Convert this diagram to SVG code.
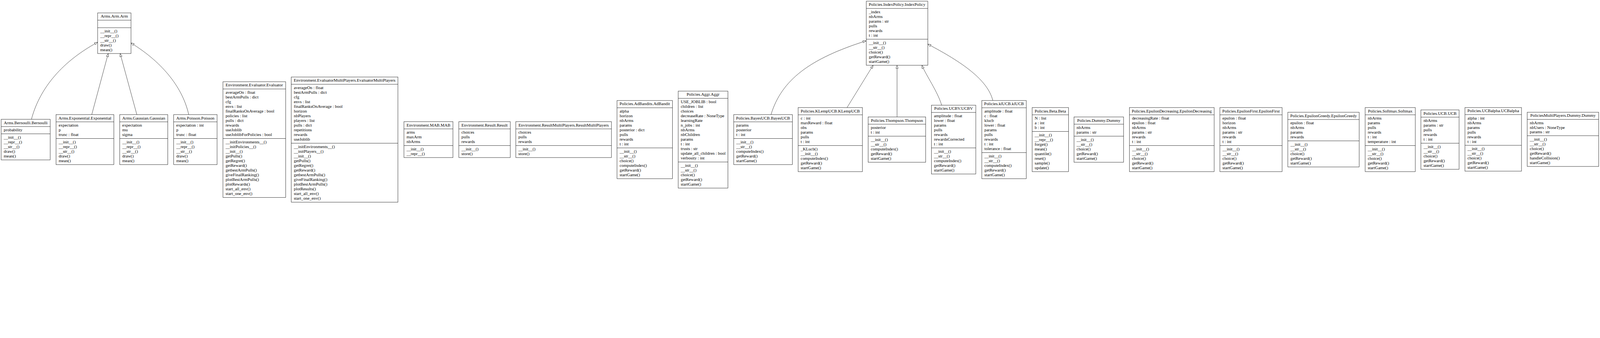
<svg xmlns="http://www.w3.org/2000/svg" width="6817" height="865" viewBox="0 0 6817 865" preserveAspectRatio="xMinYMin meet" style="max-width:100vw;max-height:100vh">
<style>
.box{fill:#fff;stroke:#000;stroke-width:1.3}
.sep{stroke:#000;stroke-width:1.3}
text{font-family:"Liberation Serif","Times New Roman",serif;font-size:18.2px;fill:#000}
.t{text-anchor:middle}
.e{fill:none;stroke:#000;stroke-width:1.2}
</style>
<defs>
<marker id="inh" markerUnits="userSpaceOnUse" markerWidth="16" markerHeight="12" viewBox="-1 -6 16 12" refX="13.3" refY="0" orient="auto">
<path d="M0,-4.7 L13.3,0 L0,4.7 Z" fill="#fff" stroke="#000" stroke-width="1.2"/>
</marker>
</defs>
<rect width="6817" height="865" fill="#fff"/>
<g id="connectors">
<path class="e" d="M134,508 C165,390 250,270 416,180" marker-end="url(#inh)"/>
<path class="e" d="M391,488 L461,228" marker-end="url(#inh)"/>
<path class="e" d="M583,488 L512,228" marker-end="url(#inh)"/>
<path class="e" d="M804,488 C780,380 700,270 558,183" marker-end="url(#inh)"/>
<path class="e" d="M3285,488 C3330,340 3450,250 3690,174" marker-end="url(#inh)"/>
<path class="e" d="M3609,458 L3720,278" marker-end="url(#inh)"/>
<path class="e" d="M3822,498 L3822,278" marker-end="url(#inh)"/>
<path class="e" d="M4012,448 C3995,390 3945,320 3928,278" marker-end="url(#inh)"/>
<path class="e" d="M4230,428 C4208,340 4100,265 3953,188" marker-end="url(#inh)"/>
</g>
<g id="arms-arm-arm">
<rect class="box" x="416" y="55" width="142" height="173"/>
<line class="sep" x1="416" y1="86" x2="558" y2="86"/><line class="sep" x1="416" y1="118" x2="558" y2="118"/>
<text class="t" x="487" y="75.5">Arms.Arm.Arm</text>
<text><tspan x="427" y="138.5">__init__()</tspan><tspan x="427" y="158.5">__repr__()</tspan><tspan x="427" y="178.5">__str__()</tspan><tspan x="427" y="198.5">draw()</tspan><tspan x="427" y="218.5">mean()</tspan></text>
</g>
<g id="arms-bernoulli">
<rect class="box" x="5" y="508" width="209" height="173"/>
<line class="sep" x1="5" y1="539" x2="214" y2="539"/><line class="sep" x1="5" y1="570" x2="214" y2="570"/>
<text class="t" x="109.5" y="528.5">Arms.Bernoulli.Bernoulli</text>
<text><tspan x="16" y="559.5">probability</tspan></text>
<text><tspan x="16" y="590.5">__init__()</tspan><tspan x="16" y="610.5">__repr__()</tspan><tspan x="16" y="630.5">__str__()</tspan><tspan x="16" y="650.5">draw()</tspan><tspan x="16" y="670.5">mean()</tspan></text>
</g>
<g id="arms-exponential">
<rect class="box" x="239" y="488" width="246" height="213"/>
<line class="sep" x1="239" y1="519" x2="485" y2="519"/><line class="sep" x1="239" y1="590" x2="485" y2="590"/>
<text class="t" x="362" y="508.5">Arms.Exponential.Exponential</text>
<text><tspan x="250" y="539.5">expectation</tspan><tspan x="250" y="559.5">p</tspan><tspan x="250" y="579.5">trunc : float</tspan></text>
<text><tspan x="250" y="610.5">__init__()</tspan><tspan x="250" y="630.5">__repr__()</tspan><tspan x="250" y="650.5">__str__()</tspan><tspan x="250" y="670.5">draw()</tspan><tspan x="250" y="690.5">mean()</tspan></text>
</g>
<g id="arms-gaussian">
<rect class="box" x="510" y="488" width="205" height="213"/>
<line class="sep" x1="510" y1="519" x2="715" y2="519"/><line class="sep" x1="510" y1="590" x2="715" y2="590"/>
<text class="t" x="612.5" y="508.5">Arms.Gaussian.Gaussian</text>
<text><tspan x="521" y="539.5">expectation</tspan><tspan x="521" y="559.5">mu</tspan><tspan x="521" y="579.5">sigma</tspan></text>
<text><tspan x="521" y="610.5">__init__()</tspan><tspan x="521" y="630.5">__repr__()</tspan><tspan x="521" y="650.5">__str__()</tspan><tspan x="521" y="670.5">draw()</tspan><tspan x="521" y="690.5">mean()</tspan></text>
</g>
<g id="arms-poisson">
<rect class="box" x="740" y="488" width="185" height="213"/>
<line class="sep" x1="740" y1="519" x2="925" y2="519"/><line class="sep" x1="740" y1="590" x2="925" y2="590"/>
<text class="t" x="832.5" y="508.5">Arms.Poisson.Poisson</text>
<text><tspan x="751" y="539.5">expectation : int</tspan><tspan x="751" y="559.5">p</tspan><tspan x="751" y="579.5">trunc : float</tspan></text>
<text><tspan x="751" y="610.5">__init__()</tspan><tspan x="751" y="630.5">__repr__()</tspan><tspan x="751" y="650.5">__str__()</tspan><tspan x="751" y="670.5">draw()</tspan><tspan x="751" y="690.5">mean()</tspan></text>
</g>
<g id="env-evaluator">
<rect class="box" x="950" y="348" width="267" height="493"/>
<line class="sep" x1="950" y1="379" x2="1217" y2="379"/><line class="sep" x1="950" y1="590" x2="1217" y2="590"/>
<text class="t" x="1083.5" y="368.5">Environment.Evaluator.Evaluator</text>
<text><tspan x="961" y="399.5">averageOn : float</tspan><tspan x="961" y="419.5">bestArmPulls : dict</tspan><tspan x="961" y="439.5">cfg</tspan><tspan x="961" y="459.5">envs : list</tspan><tspan x="961" y="479.5">finalRanksOnAverage : bool</tspan><tspan x="961" y="499.5">policies : list</tspan><tspan x="961" y="519.5">pulls : dict</tspan><tspan x="961" y="539.5">rewards</tspan><tspan x="961" y="559.5">useJoblib</tspan><tspan x="961" y="579.5">useJoblibForPolicies : bool</tspan></text>
<text><tspan x="961" y="610.5">__initEnvironments__()</tspan><tspan x="961" y="630.5">__initPolicies__()</tspan><tspan x="961" y="650.5">__init__()</tspan><tspan x="961" y="670.5">getPulls()</tspan><tspan x="961" y="690.5">getRegret()</tspan><tspan x="961" y="710.5">getReward()</tspan><tspan x="961" y="730.5">getbestArmPulls()</tspan><tspan x="961" y="750.5">giveFinalRanking()</tspan><tspan x="961" y="770.5">plotBestArmPulls()</tspan><tspan x="961" y="790.5">plotRewards()</tspan><tspan x="961" y="810.5">start_all_env()</tspan><tspan x="961" y="830.5">start_one_env()</tspan></text>
</g>
<g id="env-evaluatormultiplayers">
<rect class="box" x="1241" y="328" width="454.5" height="533"/>
<line class="sep" x1="1241" y1="359" x2="1695.5" y2="359"/><line class="sep" x1="1241" y1="610" x2="1695.5" y2="610"/>
<text class="t" x="1468.25" y="348.5">Environment.EvaluatorMultiPlayers.EvaluatorMultiPlayers</text>
<text><tspan x="1252" y="379.5">averageOn : float</tspan><tspan x="1252" y="399.5">bestArmPulls : dict</tspan><tspan x="1252" y="419.5">cfg</tspan><tspan x="1252" y="439.5">envs : list</tspan><tspan x="1252" y="459.5">finalRanksOnAverage : bool</tspan><tspan x="1252" y="479.5">horizon</tspan><tspan x="1252" y="499.5">nbPlayers</tspan><tspan x="1252" y="519.5">players : list</tspan><tspan x="1252" y="539.5">pulls : dict</tspan><tspan x="1252" y="559.5">repetitions</tspan><tspan x="1252" y="579.5">rewards</tspan><tspan x="1252" y="599.5">useJoblib</tspan></text>
<text><tspan x="1252" y="630.5">__initEnvironments__()</tspan><tspan x="1252" y="650.5">__initPlayers__()</tspan><tspan x="1252" y="670.5">__init__()</tspan><tspan x="1252" y="690.5">getPulls()</tspan><tspan x="1252" y="710.5">getRegret()</tspan><tspan x="1252" y="730.5">getReward()</tspan><tspan x="1252" y="750.5">getbestArmPulls()</tspan><tspan x="1252" y="770.5">giveFinalRanking()</tspan><tspan x="1252" y="790.5">plotBestArmPulls()</tspan><tspan x="1252" y="810.5">plotResults()</tspan><tspan x="1252" y="830.5">start_all_env()</tspan><tspan x="1252" y="850.5">start_one_env()</tspan></text>
</g>
<g id="env-mab">
<rect class="box" x="1721" y="518" width="209" height="153"/>
<line class="sep" x1="1721" y1="549" x2="1930" y2="549"/><line class="sep" x1="1721" y1="620" x2="1930" y2="620"/>
<text class="t" x="1825.5" y="538.5">Environment.MAB.MAB</text>
<text><tspan x="1732" y="569.5">arms</tspan><tspan x="1732" y="589.5">maxArm</tspan><tspan x="1732" y="609.5">nbArms</tspan></text>
<text><tspan x="1732" y="640.5">__init__()</tspan><tspan x="1732" y="660.5">__repr__()</tspan></text>
</g>
<g id="env-result">
<rect class="box" x="1955" y="518" width="219" height="153"/>
<line class="sep" x1="1955" y1="549" x2="2174" y2="549"/><line class="sep" x1="1955" y1="620" x2="2174" y2="620"/>
<text class="t" x="2064.5" y="538.5">Environment.Result.Result</text>
<text><tspan x="1966" y="569.5">choices</tspan><tspan x="1966" y="589.5">pulls</tspan><tspan x="1966" y="609.5">rewards</tspan></text>
<text><tspan x="1966" y="640.5">__init__()</tspan><tspan x="1966" y="660.5">store()</tspan></text>
</g>
<g id="env-resultmultiplayers">
<rect class="box" x="2197.5" y="518" width="407.5" height="153"/>
<line class="sep" x1="2197.5" y1="549" x2="2605" y2="549"/><line class="sep" x1="2197.5" y1="620" x2="2605" y2="620"/>
<text class="t" x="2401.25" y="538.5">Environment.ResultMultiPlayers.ResultMultiPlayers</text>
<text><tspan x="2208.5" y="569.5">choices</tspan><tspan x="2208.5" y="589.5">pulls</tspan><tspan x="2208.5" y="609.5">rewards</tspan></text>
<text><tspan x="2208.5" y="640.5">__init__()</tspan><tspan x="2208.5" y="660.5">store()</tspan></text>
</g>
<g id="pol-adbandit">
<rect class="box" x="2629" y="428" width="236" height="333"/>
<line class="sep" x1="2629" y1="459" x2="2865" y2="459"/><line class="sep" x1="2629" y1="630" x2="2865" y2="630"/>
<text class="t" x="2747" y="448.5">Policies.AdBandits.AdBandit</text>
<text><tspan x="2640" y="479.5">alpha</tspan><tspan x="2640" y="499.5">horizon</tspan><tspan x="2640" y="519.5">nbArms</tspan><tspan x="2640" y="539.5">params</tspan><tspan x="2640" y="559.5">posterior : dict</tspan><tspan x="2640" y="579.5">pulls</tspan><tspan x="2640" y="599.5">rewards</tspan><tspan x="2640" y="619.5">t : int</tspan></text>
<text><tspan x="2640" y="650.5">__init__()</tspan><tspan x="2640" y="670.5">__str__()</tspan><tspan x="2640" y="690.5">choice()</tspan><tspan x="2640" y="710.5">computeIndex()</tspan><tspan x="2640" y="730.5">getReward()</tspan><tspan x="2640" y="750.5">startGame()</tspan></text>
</g>
<g id="pol-aggr">
<rect class="box" x="2889.5" y="388" width="212" height="413"/>
<line class="sep" x1="2889.5" y1="419" x2="3101.5" y2="419"/><line class="sep" x1="2889.5" y1="690" x2="3101.5" y2="690"/>
<text class="t" x="2995.5" y="408.5">Policies.Aggr.Aggr</text>
<text><tspan x="2900.5" y="439.5">USE_JOBLIB : bool</tspan><tspan x="2900.5" y="459.5">children : list</tspan><tspan x="2900.5" y="479.5">choices</tspan><tspan x="2900.5" y="499.5">decreaseRate : NoneType</tspan><tspan x="2900.5" y="519.5">learningRate</tspan><tspan x="2900.5" y="539.5">n_jobs : int</tspan><tspan x="2900.5" y="559.5">nbArms</tspan><tspan x="2900.5" y="579.5">nbChildren</tspan><tspan x="2900.5" y="599.5">params</tspan><tspan x="2900.5" y="619.5">t : int</tspan><tspan x="2900.5" y="639.5">trusts : str</tspan><tspan x="2900.5" y="659.5">update_all_children : bool</tspan><tspan x="2900.5" y="679.5">verbosity : int</tspan></text>
<text><tspan x="2900.5" y="710.5">__init__()</tspan><tspan x="2900.5" y="730.5">__str__()</tspan><tspan x="2900.5" y="750.5">choice()</tspan><tspan x="2900.5" y="770.5">getReward()</tspan><tspan x="2900.5" y="790.5">startGame()</tspan></text>
</g>
<g id="pol-bayesucb">
<rect class="box" x="3126" y="488" width="250" height="213"/>
<line class="sep" x1="3126" y1="519" x2="3376" y2="519"/><line class="sep" x1="3126" y1="590" x2="3376" y2="590"/>
<text class="t" x="3251" y="508.5">Policies.BayesUCB.BayesUCB</text>
<text><tspan x="3137" y="539.5">params</tspan><tspan x="3137" y="559.5">posterior</tspan><tspan x="3137" y="579.5">t : int</tspan></text>
<text><tspan x="3137" y="610.5">__init__()</tspan><tspan x="3137" y="630.5">__str__()</tspan><tspan x="3137" y="650.5">computeIndex()</tspan><tspan x="3137" y="670.5">getReward()</tspan><tspan x="3137" y="690.5">startGame()</tspan></text>
</g>
<g id="pol-klempucb">
<rect class="box" x="3400.5" y="458" width="274" height="273"/>
<line class="sep" x1="3400.5" y1="489" x2="3674.5" y2="489"/><line class="sep" x1="3400.5" y1="620" x2="3674.5" y2="620"/>
<text class="t" x="3537.5" y="478.5">Policies.KLempUCB.KLempUCB</text>
<text><tspan x="3411.5" y="509.5">c : int</tspan><tspan x="3411.5" y="529.5">maxReward : float</tspan><tspan x="3411.5" y="549.5">obs</tspan><tspan x="3411.5" y="569.5">params</tspan><tspan x="3411.5" y="589.5">pulls</tspan><tspan x="3411.5" y="609.5">t : int</tspan></text>
<text><tspan x="3411.5" y="640.5">_KLucb()</tspan><tspan x="3411.5" y="660.5">__init__()</tspan><tspan x="3411.5" y="680.5">computeIndex()</tspan><tspan x="3411.5" y="700.5">getReward()</tspan><tspan x="3411.5" y="720.5">startGame()</tspan></text>
</g>
<g id="pol-indexpolicy">
<rect class="box" x="3691" y="5" width="262" height="273"/>
<line class="sep" x1="3691" y1="36" x2="3953" y2="36"/><line class="sep" x1="3691" y1="167" x2="3953" y2="167"/>
<text class="t" x="3822" y="25.5">Policies.IndexPolicy.IndexPolicy</text>
<text><tspan x="3702" y="56.5">_index</tspan><tspan x="3702" y="76.5">nbArms</tspan><tspan x="3702" y="96.5">params : str</tspan><tspan x="3702" y="116.5">pulls</tspan><tspan x="3702" y="136.5">rewards</tspan><tspan x="3702" y="156.5">t : int</tspan></text>
<text><tspan x="3702" y="187.5">__init__()</tspan><tspan x="3702" y="207.5">__str__()</tspan><tspan x="3702" y="227.5">choice()</tspan><tspan x="3702" y="247.5">getReward()</tspan><tspan x="3702" y="267.5">startGame()</tspan></text>
</g>
<g id="pol-thompson">
<rect class="box" x="3699" y="498" width="245" height="193"/>
<line class="sep" x1="3699" y1="529" x2="3944" y2="529"/><line class="sep" x1="3699" y1="580" x2="3944" y2="580"/>
<text class="t" x="3821.5" y="518.5">Policies.Thompson.Thompson</text>
<text><tspan x="3710" y="549.5">posterior</tspan><tspan x="3710" y="569.5">t : int</tspan></text>
<text><tspan x="3710" y="600.5">__init__()</tspan><tspan x="3710" y="620.5">__str__()</tspan><tspan x="3710" y="640.5">computeIndex()</tspan><tspan x="3710" y="660.5">getReward()</tspan><tspan x="3710" y="680.5">startGame()</tspan></text>
</g>
<g id="pol-ucbv">
<rect class="box" x="3968.5" y="448" width="189" height="293"/>
<line class="sep" x1="3968.5" y1="479" x2="4157.5" y2="479"/><line class="sep" x1="3968.5" y1="630" x2="4157.5" y2="630"/>
<text class="t" x="4063" y="468.5">Policies.UCBV.UCBV</text>
<text><tspan x="3979.5" y="499.5">amplitude : float</tspan><tspan x="3979.5" y="519.5">lower : float</tspan><tspan x="3979.5" y="539.5">params</tspan><tspan x="3979.5" y="559.5">pulls</tspan><tspan x="3979.5" y="579.5">rewards</tspan><tspan x="3979.5" y="599.5">rewardsCorrected</tspan><tspan x="3979.5" y="619.5">t : int</tspan></text>
<text><tspan x="3979.5" y="650.5">__init__()</tspan><tspan x="3979.5" y="670.5">__str__()</tspan><tspan x="3979.5" y="690.5">computeIndex()</tspan><tspan x="3979.5" y="710.5">getReward()</tspan><tspan x="3979.5" y="730.5">startGame()</tspan></text>
</g>
<g id="pol-klucb">
<rect class="box" x="4183" y="428" width="189.5" height="333"/>
<line class="sep" x1="4183" y1="459" x2="4372.5" y2="459"/><line class="sep" x1="4183" y1="650" x2="4372.5" y2="650"/>
<text class="t" x="4277.75" y="448.5">Policies.klUCB.klUCB</text>
<text><tspan x="4194" y="479.5">amplitude : float</tspan><tspan x="4194" y="499.5">c : float</tspan><tspan x="4194" y="519.5">klucb</tspan><tspan x="4194" y="539.5">lower : float</tspan><tspan x="4194" y="559.5">params</tspan><tspan x="4194" y="579.5">pulls</tspan><tspan x="4194" y="599.5">rewards</tspan><tspan x="4194" y="619.5">t : int</tspan><tspan x="4194" y="639.5">tolerance : float</tspan></text>
<text><tspan x="4194" y="670.5">__init__()</tspan><tspan x="4194" y="690.5">__str__()</tspan><tspan x="4194" y="710.5">computeIndex()</tspan><tspan x="4194" y="730.5">getReward()</tspan><tspan x="4194" y="750.5">startGame()</tspan></text>
</g>
<g id="pol-beta">
<rect class="box" x="4397.5" y="458" width="155" height="273"/>
<line class="sep" x1="4397.5" y1="489" x2="4552.5" y2="489"/><line class="sep" x1="4397.5" y1="560" x2="4552.5" y2="560"/>
<text class="t" x="4475" y="478.5">Policies.Beta.Beta</text>
<text><tspan x="4408.5" y="509.5">N : list</tspan><tspan x="4408.5" y="529.5">a : int</tspan><tspan x="4408.5" y="549.5">b : int</tspan></text>
<text><tspan x="4408.5" y="580.5">__init__()</tspan><tspan x="4408.5" y="600.5">__repr__()</tspan><tspan x="4408.5" y="620.5">forget()</tspan><tspan x="4408.5" y="640.5">mean()</tspan><tspan x="4408.5" y="660.5">quantile()</tspan><tspan x="4408.5" y="680.5">reset()</tspan><tspan x="4408.5" y="700.5">sample()</tspan><tspan x="4408.5" y="720.5">update()</tspan></text>
</g>
<g id="pol-dummy">
<rect class="box" x="4576" y="498" width="211" height="193"/>
<line class="sep" x1="4576" y1="529" x2="4787" y2="529"/><line class="sep" x1="4576" y1="580" x2="4787" y2="580"/>
<text class="t" x="4681.5" y="518.5">Policies.Dummy.Dummy</text>
<text><tspan x="4587" y="549.5">nbArms</tspan><tspan x="4587" y="569.5">params : str</tspan></text>
<text><tspan x="4587" y="600.5">__init__()</tspan><tspan x="4587" y="620.5">__str__()</tspan><tspan x="4587" y="640.5">choice()</tspan><tspan x="4587" y="660.5">getReward()</tspan><tspan x="4587" y="680.5">startGame()</tspan></text>
</g>
<g id="pol-epsilondecreasing">
<rect class="box" x="4812" y="458" width="361" height="273"/>
<line class="sep" x1="4812" y1="489" x2="5173" y2="489"/><line class="sep" x1="4812" y1="620" x2="5173" y2="620"/>
<text class="t" x="4992.5" y="478.5">Policies.EpsilonDecreasing.EpsilonDecreasing</text>
<text><tspan x="4823" y="509.5">decreasingRate : float</tspan><tspan x="4823" y="529.5">epsilon : float</tspan><tspan x="4823" y="549.5">nbArms</tspan><tspan x="4823" y="569.5">params : str</tspan><tspan x="4823" y="589.5">rewards</tspan><tspan x="4823" y="609.5">t : int</tspan></text>
<text><tspan x="4823" y="640.5">__init__()</tspan><tspan x="4823" y="660.5">__str__()</tspan><tspan x="4823" y="680.5">choice()</tspan><tspan x="4823" y="700.5">getReward()</tspan><tspan x="4823" y="720.5">startGame()</tspan></text>
</g>
<g id="pol-epsilonfirst">
<rect class="box" x="5197.5" y="458" width="265" height="273"/>
<line class="sep" x1="5197.5" y1="489" x2="5462.5" y2="489"/><line class="sep" x1="5197.5" y1="620" x2="5462.5" y2="620"/>
<text class="t" x="5330" y="478.5">Policies.EpsilonFirst.EpsilonFirst</text>
<text><tspan x="5208.5" y="509.5">epsilon : float</tspan><tspan x="5208.5" y="529.5">horizon</tspan><tspan x="5208.5" y="549.5">nbArms</tspan><tspan x="5208.5" y="569.5">params : str</tspan><tspan x="5208.5" y="589.5">rewards</tspan><tspan x="5208.5" y="609.5">t : int</tspan></text>
<text><tspan x="5208.5" y="640.5">__init__()</tspan><tspan x="5208.5" y="660.5">__str__()</tspan><tspan x="5208.5" y="680.5">choice()</tspan><tspan x="5208.5" y="700.5">getReward()</tspan><tspan x="5208.5" y="720.5">startGame()</tspan></text>
</g>
<g id="pol-epsilongreedy">
<rect class="box" x="5487" y="478" width="304" height="233"/>
<line class="sep" x1="5487" y1="509" x2="5791" y2="509"/><line class="sep" x1="5487" y1="600" x2="5791" y2="600"/>
<text class="t" x="5639" y="498.5">Policies.EpsilonGreedy.EpsilonGreedy</text>
<text><tspan x="5498" y="529.5">epsilon : float</tspan><tspan x="5498" y="549.5">nbArms</tspan><tspan x="5498" y="569.5">params</tspan><tspan x="5498" y="589.5">rewards</tspan></text>
<text><tspan x="5498" y="620.5">__init__()</tspan><tspan x="5498" y="640.5">__str__()</tspan><tspan x="5498" y="660.5">choice()</tspan><tspan x="5498" y="680.5">getReward()</tspan><tspan x="5498" y="700.5">startGame()</tspan></text>
</g>
<g id="pol-softmax">
<rect class="box" x="5816.5" y="458" width="213.5" height="273"/>
<line class="sep" x1="5816.5" y1="489" x2="6030" y2="489"/><line class="sep" x1="5816.5" y1="620" x2="6030" y2="620"/>
<text class="t" x="5923.25" y="478.5">Policies.Softmax.Softmax</text>
<text><tspan x="5827.5" y="509.5">nbArms</tspan><tspan x="5827.5" y="529.5">params</tspan><tspan x="5827.5" y="549.5">pulls</tspan><tspan x="5827.5" y="569.5">rewards</tspan><tspan x="5827.5" y="589.5">t : int</tspan><tspan x="5827.5" y="609.5">temperature : int</tspan></text>
<text><tspan x="5827.5" y="640.5">__init__()</tspan><tspan x="5827.5" y="660.5">__str__()</tspan><tspan x="5827.5" y="680.5">choice()</tspan><tspan x="5827.5" y="700.5">getReward()</tspan><tspan x="5827.5" y="720.5">startGame()</tspan></text>
</g>
<g id="pol-ucb">
<rect class="box" x="6054" y="468" width="162.5" height="253"/>
<line class="sep" x1="6054" y1="499" x2="6216.5" y2="499"/><line class="sep" x1="6054" y1="610" x2="6216.5" y2="610"/>
<text class="t" x="6135.25" y="488.5">Policies.UCB.UCB</text>
<text><tspan x="6065" y="519.5">nbArms</tspan><tspan x="6065" y="539.5">params : str</tspan><tspan x="6065" y="559.5">pulls</tspan><tspan x="6065" y="579.5">rewards</tspan><tspan x="6065" y="599.5">t : int</tspan></text>
<text><tspan x="6065" y="630.5">__init__()</tspan><tspan x="6065" y="650.5">__str__()</tspan><tspan x="6065" y="670.5">choice()</tspan><tspan x="6065" y="690.5">getReward()</tspan><tspan x="6065" y="710.5">startGame()</tspan></text>
</g>
<g id="pol-ucbalpha">
<rect class="box" x="6241.5" y="458" width="241" height="271"/>
<line class="sep" x1="6241.5" y1="488" x2="6482.5" y2="488"/><line class="sep" x1="6241.5" y1="619" x2="6482.5" y2="619"/>
<text class="t" x="6362" y="478">Policies.UCBalpha.UCBalpha</text>
<text><tspan x="6252.5" y="509">alpha : int</tspan><tspan x="6252.5" y="529">nbArms</tspan><tspan x="6252.5" y="549">params</tspan><tspan x="6252.5" y="569">pulls</tspan><tspan x="6252.5" y="589">rewards</tspan><tspan x="6252.5" y="609">t : int</tspan></text>
<text><tspan x="6252.5" y="639.5">__init__()</tspan><tspan x="6252.5" y="659.5">__str__()</tspan><tspan x="6252.5" y="679.5">choice()</tspan><tspan x="6252.5" y="699.5">getReward()</tspan><tspan x="6252.5" y="719.5">startGame()</tspan></text>
</g>
<g id="pm-dummy">
<rect class="box" x="6507" y="478" width="304.5" height="231"/>
<line class="sep" x1="6507" y1="508.5" x2="6811.5" y2="508.5"/><line class="sep" x1="6507" y1="578" x2="6811.5" y2="578"/>
<text class="t" x="6659.25" y="498">PoliciesMultiPlayers.Dummy.Dummy</text>
<text><tspan x="6518" y="529">nbArms</tspan><tspan x="6518" y="548.5">nbUsers : NoneType</tspan><tspan x="6518" y="568">params : str</tspan></text>
<text><tspan x="6518" y="598.5">__init__()</tspan><tspan x="6518" y="618.5">__str__()</tspan><tspan x="6518" y="638.5">choice()</tspan><tspan x="6518" y="658.5">getReward()</tspan><tspan x="6518" y="678.5">handleCollision()</tspan><tspan x="6518" y="698.5">startGame()</tspan></text>
</g>
</svg>
